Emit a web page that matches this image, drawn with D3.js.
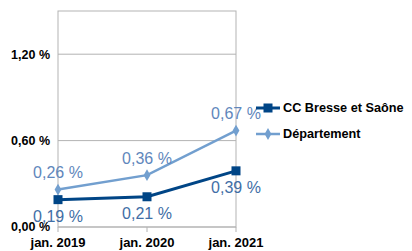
<!DOCTYPE html>
<html>
<head>
<meta charset="utf-8">
<style>
    body { margin: 0; background: #fff; }
    svg { font-family: 'Liberation Sans', Arial, sans-serif; }
</style>
</head>
<body>
<svg width="412" height="251"></svg>
<script src="https://d3js.org/d3.v7.min.js"></script>
<script>
    let categories = ["jan. 2019", "jan. 2020", "jan. 2021"];
    let ccValues = [0.19, 0.21, 0.39];
    let deptValues = [0.26, 0.36, 0.67];
    let yTicks = [0, 0.6, 1.2];
    let seriesNames = ["CC Bresse et Saône", "Département"];

    let svg = d3.select("svg");
    let margin = { top: 11, left: 58, right: 176, bottom: 227 };

    let x = d3.scalePoint()
        .domain(categories)
        .range([margin.left, 412 - margin.right]);

    let y = d3.scaleLinear()
        .domain([0, 1.5])
        .range([margin.bottom, margin.top]);

    let fmt = v => d3.format(".2f")(v).replace(".", ",") + " %";

    // plot frame + gridlines
    svg.append("rect")
        .attr("x", margin.left).attr("y", margin.top)
        .attr("width", x.range()[1] - margin.left)
        .attr("height", margin.bottom - margin.top)
        .attr("fill", "none").attr("stroke", "#b3b3b3");

    svg.selectAll(".grid")
        .data(yTicks)
        .enter().append("line")
        .attr("x1", margin.left).attr("x2", x.range()[1])
        .attr("y1", d => y(d)).attr("y2", d => y(d))
        .attr("stroke", "#b3b3b3");

    // ticks under x axis
    svg.selectAll(".xtick")
        .data(categories)
        .enter().append("line")
        .attr("x1", d => x(d)).attr("x2", d => x(d))
        .attr("y1", margin.bottom).attr("y2", margin.bottom + 5)
        .attr("stroke", "#b3b3b3");

    svg.selectAll(".ylab")
        .data(yTicks)
        .enter().append("text")
        .attr("x", 50).attr("y", d => y(d))
        .attr("dy", "0.35em")
        .attr("text-anchor", "end")
        .style("font-size", "12.5px").style("font-weight", "bold")
        .text(d => fmt(d));

    svg.selectAll(".xlab")
        .data(categories)
        .enter().append("text")
        .attr("x", d => x(d)).attr("y", 242)
        .attr("dy", "0.35em")
        .attr("text-anchor", "middle")
        .style("font-size", "13px").style("font-weight", "bold")
        .text(d => d);

    let line = d3.line()
        .x((d, i) => x(categories[i]))
        .y(d => y(d));

    // Département series
    svg.append("path")
        .datum(deptValues)
        .attr("d", line)
        .attr("fill", "none")
        .attr("stroke", "#729fcf")
        .attr("stroke-width", 2.5);

    let diamond = d3.symbol().type(d3.symbolDiamond).size(40);

    svg.selectAll(".dpt")
        .data(deptValues)
        .enter().append("path")
        .attr("d", diamond)
        .attr("transform", (d, i) => `translate(${x(categories[i])},${y(d)})`)
        .attr("fill", "#729fcf");

    // CC series
    svg.append("path")
        .datum(ccValues)
        .attr("d", line)
        .attr("fill", "none")
        .attr("stroke", "#004586")
        .attr("stroke-width", 3);

    svg.selectAll(".cc")
        .data(ccValues)
        .enter().append("rect")
        .attr("x", (d, i) => x(categories[i]) - 4.5)
        .attr("y", d => y(d) - 4.5)
        .attr("width", 9).attr("height", 9)
        .attr("fill", "#004586");

    // data labels
    svg.selectAll(".dlab")
        .data(deptValues)
        .enter().append("text")
        .attr("x", (d, i) => x(categories[i]))
        .attr("y", d => y(d) - 17)
        .attr("dy", "0.35em")
        .attr("text-anchor", "middle")
        .style("font-size", "16px")
        .attr("fill", "#5f87bc")
        .text(d => fmt(d));

    svg.selectAll(".clab")
        .data(ccValues)
        .enter().append("text")
        .attr("x", (d, i) => x(categories[i]))
        .attr("y", d => y(d) + 17)
        .attr("dy", "0.35em")
        .attr("text-anchor", "middle")
        .style("font-size", "16px")
        .attr("fill", "#416ea6")
        .text(d => fmt(d));

    // legend
    let legend = svg.append("g");
    let legY = [108, 134];
    legend.selectAll("line")
        .data(seriesNames)
        .enter().append("line")
        .attr("x1", 256).attr("x2", 280)
        .attr("y1", (d, i) => legY[i]).attr("y2", (d, i) => legY[i])
        .attr("stroke", (d, i) => i == 0 ? "#004586" : "#729fcf")
        .attr("stroke-width", (d, i) => i == 0 ? 3 : 2.5);

    legend.append("rect")
        .attr("x", 263.5).attr("y", legY[0] - 4.5)
        .attr("width", 9).attr("height", 9)
        .attr("fill", "#004586");

    legend.append("path")
        .attr("d", diamond)
        .attr("transform", `translate(268,${legY[1]})`)
        .attr("fill", "#729fcf");

    legend.selectAll("text")
        .data(seriesNames)
        .enter().append("text")
        .attr("x", 283).attr("y", (d, i) => legY[i])
        .attr("dy", "0.35em")
        .style("font-size", "12.7px").style("font-weight", "bold")
        .text(d => d);
</script>
</body>
</html>
